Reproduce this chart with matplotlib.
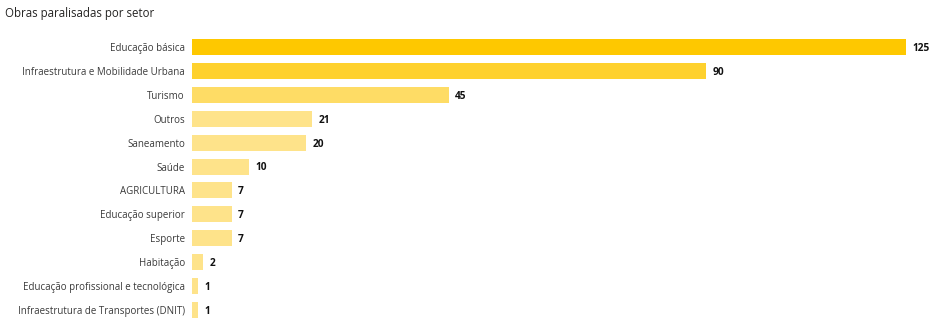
import matplotlib.pyplot as plt

plt.rcParams['font.family'] = ['Open Sans', 'DejaVu Sans']

setores = ["Educação básica", "Infraestrutura e Mobilidade Urbana", "Turismo", "Outros",
           "Saneamento", "Saúde", "AGRICULTURA", "Educação superior", "Esporte",
           "Habitação", "Educação profissional e tecnológica",
           "Infraestrutura de Transportes (DNIT)"]
obras = [125, 90, 45, 21, 20, 10, 7, 7, 7, 2, 1, 1]
cores = ["#fec800", "#fed12e", "#fedc65"] + ["#fee38a"] * 9

fig = plt.figure(figsize=(9.34, 3.23), dpi=100)
ax = fig.add_axes([192 / 934, 1 / 323, (906 - 192) / 934, (322 - 35) / 323])

y = list(range(len(setores)))
ax.barh(y, obras, height=0.67, color=cores)
ax.set_ylim(len(setores) - 0.5, -0.5)
ax.set_xlim(0, 125)

for yi, v in zip(y, obras):
    ax.annotate(str(v), (v, yi), xytext=(4.5, -1), textcoords='offset points',
                ha='left', va='center', fontsize=7.3, fontweight='bold',
                color='#111111', annotation_clip=False)

ax.set_yticks(y)
ax.set_yticklabels(setores, fontsize=7, color='#3a3a3a')
ax.tick_params(axis='y', length=0, pad=5)
ax.set_xticks([])
for s in ax.spines.values():
    s.set_visible(False)

fig.text(5 / 934, 1 - 14 / 323, "Obras paralisadas por setor", fontsize=8.3,
         color='#252423', va='center', ha='left')

fig.savefig("out.png", dpi=100)
